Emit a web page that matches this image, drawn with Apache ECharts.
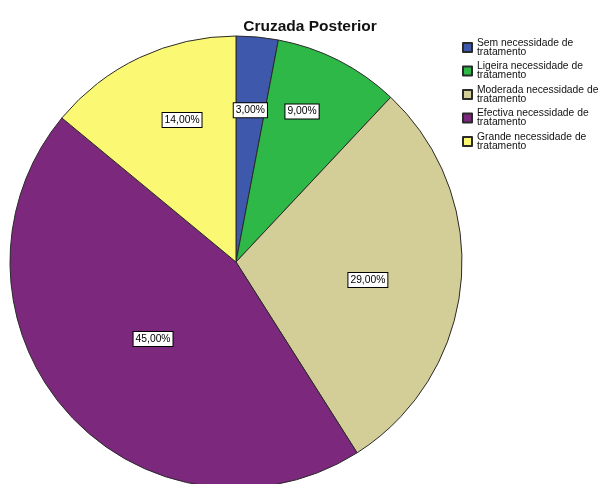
<!DOCTYPE html>
<html>
<head>
<meta charset="utf-8">
<script src="https://cdn.jsdelivr.net/npm/echarts@6/dist/echarts.min.js"></script>
<style>
  html, body { margin: 0; padding: 0; background: #ffffff; }
  #chart { width: 602px; height: 484px; }
</style>
</head>
<body>
<div id="chart"></div>
<script>
// Categories and their shares (percent), drawn clockwise from 12 o'clock
const categories = [
  'Sem necessidade de tratamento',
  'Ligeira necessidade de tratamento',
  'Moderada necessidade de tratamento',
  'Efectiva necessidade de tratamento',
  'Grande necessidade de tratamento'
];
const values = [3, 9, 29, 45, 14];
const colors = ['#3E58AC', '#2EB848', '#D3CE97', '#7C287D', '#FBF873'];

// Label placement: distance from the centre (fraction of radius)
// and a small angular nudge (degrees) off the slice's mid-angle
const labelRadiusFrac = [0.675, 0.727, 0.589, 0.501, 0.672];
const labelAngleNudge = [0, -3.3, 2.4, -1.5, 4.4];

const CX = 236, CY = 262, R = 226;
const total = values.reduce((a, b) => a + b, 0);

function midAngle(i) {
  let before = 0;
  for (let k = 0; k < i; k++) before += values[k];
  return (before + values[i] / 2) / total * 2 * Math.PI;
}

const chart = echarts.init(document.getElementById('chart'), null, { renderer: 'canvas' });

chart.setOption({
  backgroundColor: '#ffffff',
  animation: false,
  title: {
    text: 'Cruzada Posterior',
    left: 305,
    top: 14,
    textAlign: 'center',
    textStyle: { fontFamily: 'Liberation Sans, Arial, sans-serif', fontSize: 15.5, fontWeight: 'bold', color: '#111' }
  },
  legend: {
    orient: 'vertical',
    left: 462,
    top: 34,
    padding: 0,
    itemWidth: 9,
    itemHeight: 9,
    itemGap: -3.5,
    icon: 'rect',
    selectedMode: false,
    formatter: name => name.replace(' de ', ' de\n'),
    textStyle: {
      fontFamily: 'Liberation Sans, Arial, sans-serif',
      fontSize: 10.3,
      lineHeight: 9,
      color: '#111',
      padding: [9, 0, 0, 0]
    },
    data: categories
  },
  series: [{
    type: 'pie',
    center: [CX, CY],
    radius: R,
    startAngle: 90,
    clockwise: true,
    silent: true,
    label: {
      show: true,
      position: 'inside',
      formatter: p => p.value.toFixed(2).replace('.', ',') + '%',
      fontFamily: 'Liberation Sans, Arial, sans-serif',
      fontSize: 10.3,
      color: '#000',
      backgroundColor: '#ffffff',
      borderColor: '#000',
      borderWidth: 1,
      padding: [2, 2, 2, 2]
    },
    labelLayout: function (params) {
      const i = params.dataIndex;
      const a = midAngle(i) + labelAngleNudge[i] * Math.PI / 180;
      const r = labelRadiusFrac[i] * R;
      return {
        x: CX + r * Math.sin(a),
        y: CY - r * Math.cos(a),
        align: 'center',
        verticalAlign: 'middle'
      };
    },
    itemStyle: { borderColor: '#2a2a2a', borderWidth: 1 },
    data: categories.map((name, i) => ({
      name: name,
      value: values[i],
      itemStyle: { color: colors[i] }
    }))
  }]
});
</script>
</body>
</html>
